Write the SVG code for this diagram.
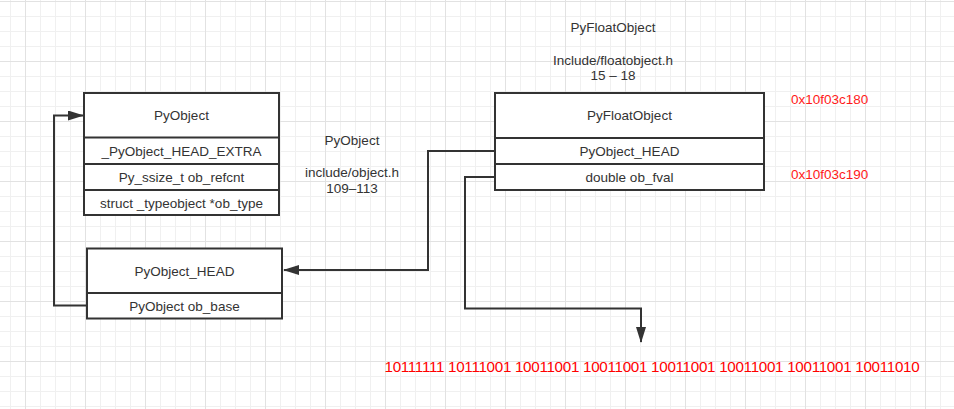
<svg xmlns="http://www.w3.org/2000/svg" width="954" height="409" viewBox="0 0 954 409">
<style>
.box{fill:#fff;stroke:#333;stroke-width:2}
.div{stroke:#333;stroke-width:2}
.t{font-family:"Liberation Sans",Arial,sans-serif;font-size:13.5px;fill:#333;text-anchor:middle}
.r{font-family:"Liberation Sans",Arial,sans-serif;font-size:13.5px;fill:#ff1a1a}
.bin{font-family:"Liberation Sans",Arial,sans-serif;font-size:15.2px;letter-spacing:-0.29px;fill:#ff0000}
.conn{fill:none;stroke:#333;stroke-width:2}
</style>
<defs>
<pattern id="grid" patternUnits="userSpaceOnUse" x="25" y="1" width="60" height="60">
<path d="M15.5,0V60M30.5,0V60M45.5,0V60M0,15.5H60M0,30.5H60M0,45.5H60" stroke="#f0f0f0" stroke-width="1" fill="none"/>
<path d="M0.5,0V60M0,0.5H60" stroke="#e2e2e2" stroke-width="1" fill="none"/>
</pattern>
<marker id="arr" markerUnits="userSpaceOnUse" markerWidth="16" markerHeight="10" refX="15" refY="5" orient="auto">
<path d="M0,0L16,5L0,10z" fill="#333"/>
</marker>
</defs>
<rect width="954" height="409" fill="#fff"/>
<rect width="954" height="409" fill="url(#grid)"/>

<g id="labels">
<text class="t" x="613" y="32">PyFloatObject</text>
<text class="t" x="613" y="64.5">Include/floatobject.h</text>
<text class="t" x="613" y="80">15 – 18</text>
<text class="t" x="352" y="145">PyObject</text>
<text class="t" x="352" y="177">include/object.h</text>
<text class="t" x="352" y="193">109–113</text>
<text class="r" x="791" y="104">0x10f03c180</text>
<text class="r" x="791" y="179">0x10f03c190</text>
<text class="bin" x="384.5" y="372">10111111 10111001 10011001 10011001 10011001 10011001 10011001 10011010</text>
</g>

<g id="connectors">
<path class="conn" d="M87,305.5H54V115.5H83" marker-end="url(#arr)"/>
<path class="conn" d="M495,151H428V270H284" marker-end="url(#arr)"/>
<path class="conn" d="M495,177H465V308.5H641V342" marker-end="url(#arr)"/>
</g>

<g id="pyobject">
<rect class="box" x="84" y="93" width="195" height="122"/>
<path class="div" d="M84,137.5H279M84,164H279M84,190H279"/>
<text class="t" x="181.5" y="120">PyObject</text>
<text class="t" x="181.5" y="156">_PyObject_HEAD_EXTRA</text>
<text class="t" x="181.5" y="182">Py_ssize_t ob_refcnt</text>
<text class="t" x="181.5" y="208">struct _typeobject *ob_type</text>
</g>

<g id="pyobject_head">
<rect class="box" x="87" y="248.5" width="195" height="70"/>
<path class="div" d="M87,293H282"/>
<text class="t" x="184.5" y="275.5">PyObject_HEAD</text>
<text class="t" x="184.5" y="311">PyObject ob_base</text>
</g>

<g id="pyfloatobject">
<rect class="box" x="495" y="93" width="269" height="97"/>
<path class="div" d="M495,138H764M495,164H764"/>
<text class="t" x="629.5" y="120">PyFloatObject</text>
<text class="t" x="629.5" y="156">PyObject_HEAD</text>
<text class="t" x="629.5" y="181.5">double ob_fval</text>
</g>
</svg>
